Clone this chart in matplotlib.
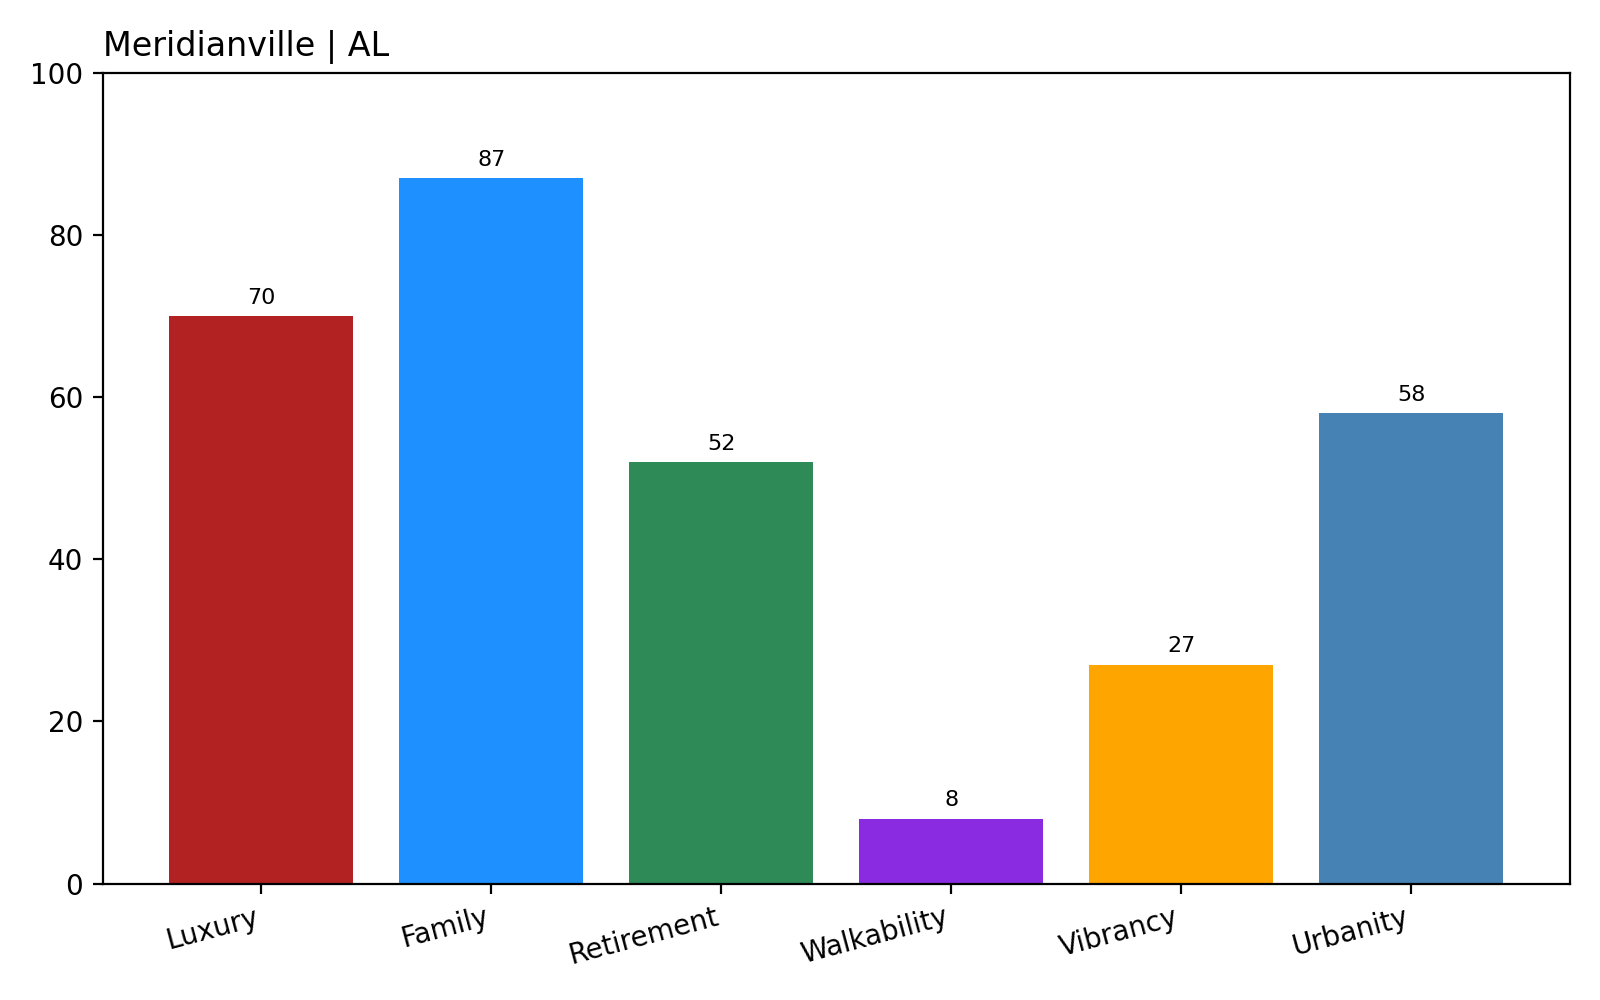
import matplotlib.pyplot as plt

categories = ['Luxury', 'Family', 'Retirement', 'Walkability', 'Vibrancy', 'Urbanity']
scores = [70, 87, 52, 8, 27, 58]
bar_colors = ['firebrick', 'dodgerblue', 'seagreen', 'blueviolet', 'orange', 'steelblue']

fig, ax = plt.subplots(figsize=(8, 5), dpi=200)
bars = ax.bar(categories, scores, color=bar_colors)
for b, v in zip(bars, scores):
    ax.annotate(str(v), (b.get_x() + b.get_width() / 2, b.get_height()),
                xytext=(0, 3), textcoords='offset points',
                ha='center', va='bottom', fontsize=8)
ax.set_ylim(0, 100)
ax.set_title('Meridianville | AL', loc='left')
plt.setp(ax.get_xticklabels(), rotation=15, ha='right')
fig.tight_layout()
fig.savefig('out.png')
